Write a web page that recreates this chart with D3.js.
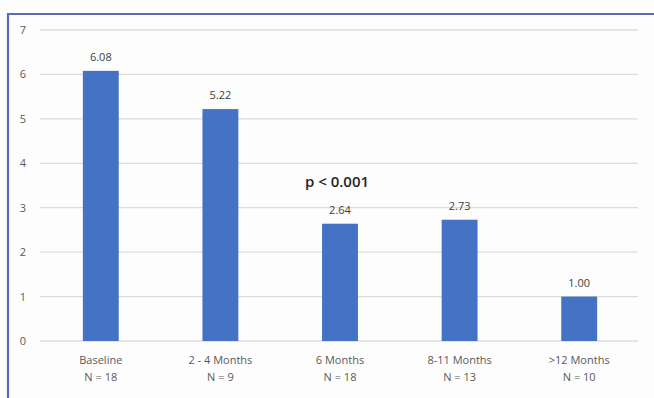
<!DOCTYPE html>
<html>
<head>
<meta charset="utf-8">
<script src="https://cdn.jsdelivr.net/npm/d3@7"></script>
<style>
  html, body { margin: 0; padding: 0; background: #ffffff; }
  svg { display: block; }
</style>
</head>
<body>
<div id="chart"></div>
<script>
// Mean score by follow-up period
const categories = ["Baseline", "2 - 4 Months", "6 Months", "8-11 Months", ">12 Months"];
const sampleSizes = ["N = 18", "N = 9", "N = 18", "N = 13", "N = 10"];
const values = [6.08, 5.22, 2.64, 2.73, 1.00];
const yTicks = [0, 1, 2, 3, 4, 5, 6, 7];
const annotation = "p < 0.001";

const W = 654, H = 398;
const margin = { left: 40, right: 16, top: 30, bottom: 57 };

const svg = d3.select("#chart").append("svg")
  .attr("width", W).attr("height", H);

// Frame around the chart area
svg.append("rect")
  .attr("x", 0).attr("y", 0).attr("width", W).attr("height", H)
  .attr("fill", "#fdfdfd");
svg.append("path")
  .attr("d", `M8,${H} L8,14 L${W},14`)
  .attr("fill", "none")
  .attr("stroke", "#5b6bb8")
  .attr("stroke-width", 2.2);

const x = d3.scaleBand()
  .domain(categories)
  .range([margin.left + 1, 639])
  .paddingInner(0.7)
  .paddingOuter(0.35);

const y = d3.scaleLinear()
  .domain([0, 7])
  .range([341, 30]);

// Horizontal gridlines
svg.append("g")
  .selectAll("line")
  .data(yTicks)
  .join("line")
  .attr("x1", margin.left)
  .attr("x2", 638)
  .attr("y1", d => y(d))
  .attr("y2", d => y(d))
  .attr("stroke", "#dcdcdc")
  .attr("stroke-width", 1.3);

// Y axis tick labels
const yAxis = d3.axisLeft(y).tickValues(yTicks).tickFormat(d3.format("d"))
  .tickSize(0).tickPadding(0);
const yg = svg.append("g")
  .attr("transform", "translate(26,0)")
  .call(yAxis);
yg.select(".domain").remove();
yg.selectAll("text")
  .attr("font-family", "'Open Sans', 'Liberation Sans', sans-serif")
  .attr("font-size", 11)
  .attr("fill", "#595959");

// Bars
svg.append("g")
  .selectAll("rect")
  .data(values)
  .join("rect")
  .attr("x", (d, i) => x(categories[i]))
  .attr("width", x.bandwidth())
  .attr("y", d => y(d))
  .attr("height", d => y(0) - y(d))
  .attr("fill", "#4472c4");

// Value labels
svg.append("g")
  .selectAll("text")
  .data(values)
  .join("text")
  .attr("x", (d, i) => x(categories[i]) + x.bandwidth() / 2)
  .attr("y", d => y(d) - 10)
  .attr("text-anchor", "middle")
  .attr("font-family", "'Open Sans', 'Liberation Sans', sans-serif")
  .attr("font-size", 11)
  .attr("fill", "#404040")
  .text(d => d.toFixed(2));

// Category labels (two lines)
const xl = svg.append("g")
  .selectAll("text")
  .data(categories)
  .join("text")
  .attr("x", d => x(d) + x.bandwidth() / 2)
  .attr("y", 364)
  .attr("text-anchor", "middle")
  .attr("font-family", "'Open Sans', 'Liberation Sans', sans-serif")
  .attr("font-size", 11)
  .attr("fill", "#595959");
xl.append("tspan")
  .attr("x", d => x(d) + x.bandwidth() / 2)
  .text(d => d);
xl.append("tspan")
  .attr("x", d => x(d) + x.bandwidth() / 2)
  .attr("dy", 17)
  .text((d, i) => sampleSizes[i]);

// Significance annotation
svg.append("text")
  .attr("x", x(categories[2]) + x.bandwidth() / 2 - 3)
  .attr("y", 187)
  .attr("text-anchor", "middle")
  .attr("font-family", "'Open Sans', 'Liberation Sans', sans-serif")
  .attr("font-size", 15)
  .attr("font-weight", 600)
  .attr("fill", "#262626")
  .text(annotation);
</script>
</body>
</html>
